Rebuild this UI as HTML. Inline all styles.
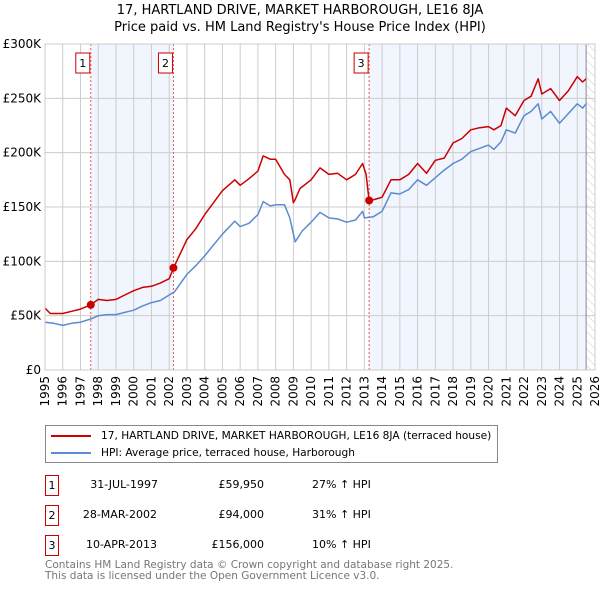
<!DOCTYPE html>
<html><head><meta charset="utf-8"><style>
body{margin:0;width:600px;height:590px;background:#fff;font-family:"DejaVu Sans","Liberation Sans",sans-serif;overflow:hidden}
svg{position:absolute;left:0;top:0}
</style></head><body>
<svg id="c" width="600" height="590" xmlns="http://www.w3.org/2000/svg"></svg>
<script>
const hpiYears=[1995,1995.5,1996,1996.5,1997,1997.6,1998,1998.5,1999,1999.5,2000,2000.5,2001,2001.5,2002,2002.3,2003,2003.5,2004,2004.5,2005,2005.7,2006,2006.5,2007,2007.3,2007.7,2008,2008.5,2008.8,2009,2009.1,2009.5,2010,2010.5,2011,2011.5,2012,2012.5,2012.9,2013,2013.5,2014,2014.5,2015,2015.5,2016,2016.5,2017,2017.5,2018,2018.5,2019,2019.5,2020,2020.3,2020.7,2021,2021.5,2022,2022.4,2022.8,2023,2023.5,2024,2024.5,2025,2025.3,2025.5];
const hpiValues=[44,43,41,43,44,47,50,51,51,53,55,59,62,64,69,72,88,96,105,115,125,137,132,135,143,155,151,152,152,140,125,118,128,136,145,140,139,136,138,146,140,141,146,163,162,166,175,170,177,184,190,194,201,204,207,203,210,221,218,234,238,245,231,238,227,236,245,241,245];
const saleYears=[1995,1995.3,1996,1996.5,1997,1997.58,1998,1998.5,1999,1999.5,2000,2000.5,2001,2001.5,2002,2002.24,2003,2003.5,2004,2004.5,2005,2005.7,2006,2006.5,2007,2007.3,2007.7,2008,2008.5,2008.8,2009,2009.1,2009.37,2010,2010.5,2011,2011.5,2012,2012.5,2012.9,2013.1,2013.27,2013.6,2014,2014.5,2015,2015.5,2016,2016.5,2017,2017.5,2018,2018.5,2019,2019.5,2020,2020.3,2020.7,2021,2021.5,2022,2022.4,2022.8,2023,2023.5,2024,2024.5,2025,2025.3,2025.5];
const saleValues=[57,52,52,54,56,60,65,64,65,69,73,76,77,80,84,94,120,130,143,154,165,175,170,176,183,197,194,194,180,175,154,157,167,175,186,180,181,175,180,190,180,156,157,159,175,175,180,190,181,193,195,209,213,221,223,224,221,225,241,234,248,252,268,254,259,248,257,270,265,268];
const yTicks=[0,50,100,150,200,250,300];
const yLabels=["£0","£50K","£100K","£150K","£200K","£250K","£300K"];
const xTicks=[1995,1996,1997,1998,1999,2000,2001,2002,2003,2004,2005,2006,2007,2008,2009,2010,2011,2012,2013,2014,2015,2016,2017,2018,2019,2020,2021,2022,2023,2024,2025,2026];
const saleMarks=[1997.58,2002.24,2013.27];
const saleMarkVals=[59.95,94,156];
const saleLabels=["1","2","3"];
const L=45,R=595,T=44,B=370,NS="http://www.w3.org/2000/svg";
const X=y=>L+(y-1995)*(R-L)/31, Y=v=>B-v*(B-T)/300;
const svg=document.getElementById('c');
function el(t,a,txt){const e=document.createElementNS(NS,t);for(const k in a)e.setAttribute(k,a[k]);if(txt!=null)e.textContent=txt;svg.appendChild(e);return e;}
let e=el('rect',{x:X(saleMarks[0]),y:T,width:X(saleMarks[1])-X(saleMarks[0]),height:B-T,fill:'#eef2fc',opacity:0.8});

e=el('rect',{x:X(saleMarks[2]),y:T,width:X(2025.5)-X(saleMarks[2]),height:B-T,fill:'#eef2fc',opacity:0.8});

const defs=el('defs',{});
defs.innerHTML='<pattern id="h" width="6" height="6" patternUnits="userSpaceOnUse" patternTransform="rotate(-45)"><line x1="0" y1="0" x2="0" y2="6" stroke="#ccc" stroke-width="1"/></pattern>';
e=el('rect',{x:X(2025.5),y:T,width:R-X(2025.5),height:B-T,fill:'url(#h)'});

xTicks.forEach(t=>{el('line',{x1:X(t),x2:X(t),y1:T,y2:B,stroke:'#ccc','stroke-width':1});
 const tx=el('text',{x:0,y:0,transform:`translate(${X(t)+4},${B+6}) rotate(-90)`,'text-anchor':'end','font-size':12,fill:'#000'},t);
 });
yTicks.forEach((t,i)=>{el('line',{x1:L,x2:R,y1:Y(t),y2:Y(t),stroke:'#ccc','stroke-width':1});
 const tx=el('text',{x:L-4,y:Y(t)+4,'text-anchor':'end','font-size':12,fill:'#000'},yLabels[i]);
 });
el('line',{x1:X(2025.5),x2:X(2025.5),y1:T,y2:B,stroke:'#888','stroke-width':1});
saleMarks.forEach((m,i)=>{el('line',{x1:X(m),x2:X(m),y1:T,y2:B,stroke:'#e55','stroke-width':1,'stroke-dasharray':'2,2'});
 const bx=el('rect',{x:X(m)-15,y:53,width:14,height:20,fill:'#fff',stroke:'#c00'});
 
 el('text',{x:X(m)-8,y:67,'text-anchor':'middle','font-size':11},saleLabels[i]);});
function path(xs,vs,c,n){const d=xs.map((x,i)=>(i?'L':'M')+X(x).toFixed(1)+','+Y(vs[i]).toFixed(1)).join('');
 const p=el('path',{d:d,fill:'none',stroke:c,'stroke-width':1.5,'stroke-linejoin':'round'});
 }
path(hpiYears,hpiValues,'#5b8bd0','hpi-line');
path(saleYears,saleValues,'#cc0000','price-line');
saleMarks.forEach((m,i)=>{const c=el('circle',{cx:X(m),cy:Y(saleMarkVals[i]),r:4,fill:'#cc0000'});
 });
el('rect',{x:L,y:T,width:R-L,height:B-T,fill:'none',stroke:'#ccc'});
</script>
<div style="position:absolute;left:0;top:2px;width:600px;text-align:center;font-size:13px;line-height:17px">17, HARTLAND DRIVE, MARKET HARBOROUGH, LE16 8JA<br>Price paid vs. HM Land Registry's House Price Index (HPI)</div>
<div style="position:absolute;left:45px;top:425px;width:451px;height:36px;border:1px solid #888;font-size:10.6px">
 <div style="position:absolute;left:5px;top:4px;white-space:nowrap"><span style="display:inline-block;width:40px;height:2px;background:#cc0000;vertical-align:middle;margin-right:10px"></span>17, HARTLAND DRIVE, MARKET HARBOROUGH, LE16 8JA (terraced house)</div>
 <div style="position:absolute;left:5px;top:21px;white-space:nowrap"><span style="display:inline-block;width:40px;height:2px;background:#5b8bd0;vertical-align:middle;margin-right:10px"></span>HPI: Average price, terraced house, Harborough</div>
</div>
<div style="font-size:11px">
 <div style="position:absolute;top:475px;left:0;width:600px;height:20px">
  <div style="position:absolute;left:45px;width:12px;height:19px;border:1px solid #c00;text-align:center;line-height:19px">1</div>
  <div style="position:absolute;left:60px;width:98px;text-align:right;line-height:20px">31-JUL-1997</div>
  <div style="position:absolute;left:180px;width:84px;text-align:right;line-height:20px">£59,950</div>
  <div style="position:absolute;left:312px;line-height:20px">27% ↑ HPI</div></div>
 <div style="position:absolute;top:505px;left:0;width:600px;height:20px">
  <div style="position:absolute;left:45px;width:12px;height:19px;border:1px solid #c00;text-align:center;line-height:19px">2</div>
  <div style="position:absolute;left:60px;width:97px;text-align:right;line-height:20px">28-MAR-2002</div>
  <div style="position:absolute;left:180px;width:84px;text-align:right;line-height:20px">£94,000</div>
  <div style="position:absolute;left:312px;line-height:20px">31% ↑ HPI</div></div>
 <div style="position:absolute;top:535px;left:0;width:600px;height:20px">
  <div style="position:absolute;left:45px;width:12px;height:19px;border:1px solid #c00;text-align:center;line-height:19px">3</div>
  <div style="position:absolute;left:60px;width:97px;text-align:right;line-height:20px">10-APR-2013</div>
  <div style="position:absolute;left:180px;width:84px;text-align:right;line-height:20px">£156,000</div>
  <div style="position:absolute;left:312px;line-height:20px">10% ↑ HPI</div></div>
</div>
<div style="position:absolute;left:45px;top:560px;font-size:10.5px;line-height:10.5px;color:#777;white-space:nowrap">Contains HM Land Registry data © Crown copyright and database right 2025.<br>This data is licensed under the Open Government Licence v3.0.</div>
</body></html>
